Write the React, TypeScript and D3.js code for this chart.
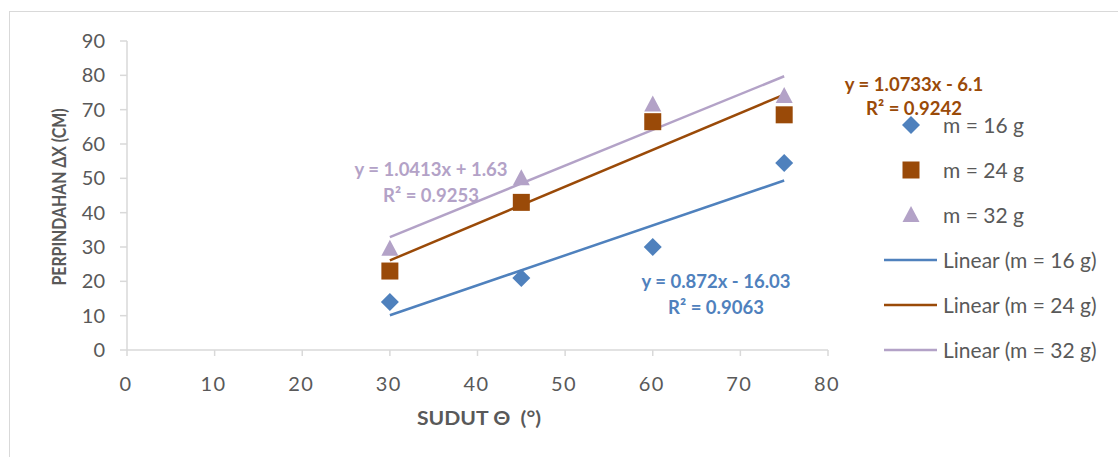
import React from "react";
import * as d3 from "d3";

const angles = [30, 45, 60, 75];
const series16 = [14, 21, 30, 54.5];
const series24 = [23, 43, 66.5, 68.5];
const series32 = [29.5, 50, 71.5, 74];
const xTicks = [0, 10, 20, 30, 40, 50, 60, 70, 80];
const yTicks = [0, 10, 20, 30, 40, 50, 60, 70, 80, 90];
const trends = [
  { slope: 0.872, intercept: -16.03, eq: "y = 0.872x - 16.03", r2: "R² = 0.9063" },
  { slope: 1.0733, intercept: -6.1, eq: "y = 1.0733x - 6.1", r2: "R² = 0.9242" },
  { slope: 1.0413, intercept: 1.63, eq: "y = 1.0413x + 1.63", r2: "R² = 0.9253" },
];
const seriesNames = ["m = 16 g", "m = 24 g", "m = 32 g"];

const colors = ["#4F81BD", "#9A4A08", "#B3A2C7"];
const FONT = "Lato, 'Open Sans', sans-serif";

export default function App() {
  const W = 1118, H = 457;
  const x = d3.scaleLinear().domain([0, 80]).range([127, 828]);
  const y = d3.scaleLinear().domain([0, 90]).range([350, 41]);
  const allSeries = [series16, series24, series32];
  const line = d3.line<number[]>().x((d) => x(d[0])).y((d) => y(d[1]));

  const marker = (k: number, cx: number, cy: number, key: string) => {
    if (k === 0) {
      const s = 9;
      return <path key={key} d={`M${cx},${cy - s}L${cx + s},${cy}L${cx},${cy + s}L${cx - s},${cy}Z`} fill={colors[0]} />;
    }
    if (k === 1) {
      return <rect key={key} x={cx - 8.5} y={cy - 8.5} width={17} height={17} fill={colors[1]} />;
    }
    return <path key={key} d={`M${cx},${cy - 9}L${cx + 8.5},${cy + 7}L${cx - 8.5},${cy + 7}Z`} fill={colors[2]} />;
  };

  const annots = [
    { k: 0, x1: 716, y1: 281, y2: 307 },
    { k: 1, x1: 914, y1: 84, y2: 108 },
    { k: 2, x1: 431, y1: 169, y2: 195 },
  ];

  const legendY = [125, 170, 215, 260, 305, 350];

  return (
    <svg width={W} height={H} style={{ position: "absolute", left: 0, top: 0, fontFamily: FONT }}>
      <rect x={0} y={0} width={W} height={H} fill="#fff" />
      <rect x={9.5} y={11.5} width={1300} height={600} fill="none" stroke="#D9D9D9" strokeWidth={1} />
      {/* axes */}
      <line x1={x(0)} x2={x(80)} y1={y(0)} y2={y(0)} stroke="#D9D9D9" strokeWidth={1.5} />
      <line x1={x(0)} x2={x(0)} y1={y(0)} y2={y(90)} stroke="#D9D9D9" strokeWidth={1.5} />
      {xTicks.map((t) => (
        <g key={"xt" + t}>
          <line x1={x(t)} x2={x(t)} y1={y(0)} y2={y(0) + 6} stroke="#D9D9D9" strokeWidth={1.5} />
          <text x={x(t) - 1} y={y(0) + 41} textAnchor="middle" fontSize={20} fill="#595959" letterSpacing={1.5}>{t}</text>
        </g>
      ))}
      {yTicks.map((t) => (
        <g key={"yt" + t}>
          <line x1={x(0) - 7} x2={x(0)} y1={y(t)} y2={y(t)} stroke="#D9D9D9" strokeWidth={1.5} />
          <text x={x(0) - 22} y={y(t) + 7} textAnchor="end" fontSize={20} fill="#595959">{t}</text>
        </g>
      ))}
      <text x={479} y={425} textAnchor="middle" fontSize={19} fontWeight="bold" fill="#595959" textLength={124} lengthAdjust="spacingAndGlyphs" style={{ whiteSpace: "pre" }}>{"SUDUT Θ\u00A0\u00A0(°)"}</text>
      <text transform={`translate(66,197) rotate(-90)`} textAnchor="middle" fontSize={18} fontWeight="bold" fill="#595959" textLength={177} lengthAdjust="spacingAndGlyphs">PERPINDAHAN ΔX (CM)</text>

      {/* trend lines */}
      {trends.map((tr, k) => (
        <path key={"tr" + k} d={line([[30, tr.slope * 30 + tr.intercept], [75, tr.slope * 75 + tr.intercept]]) || ""} stroke={colors[k]} strokeWidth={2.5} fill="none" />
      ))}
      {/* markers */}
      {allSeries.map((s, k) => s.map((v, i) => marker(k, x(angles[i]), y(v), `m${k}-${i}`)))}

      {/* annotations */}
      {annots.map((a) => (
        <g key={"an" + a.k} fontWeight="bold" fontSize={18.5} fill={colors[a.k]} textAnchor="middle">
          <text x={a.x1} y={a.y1 + 6.5}>{trends[a.k].eq}</text>
          <text x={a.x1} y={a.y2 + 6.5}>{trends[a.k].r2}</text>
        </g>
      ))}

      {/* legend */}
      {seriesNames.map((n, k) => (
        <g key={"lg" + k}>
          {marker(k, 911, legendY[k], "lgm" + k)}
          <text x={943} y={legendY[k] + 7.5} fontSize={21} fill="#595959">{n}</text>
        </g>
      ))}
      {seriesNames.map((n, k) => (
        <g key={"lgl" + k}>
          <line x1={884} x2={937} y1={legendY[k + 3]} y2={legendY[k + 3]} stroke={colors[k]} strokeWidth={2.5} />
          <text x={943} y={legendY[k + 3] + 7.5} fontSize={21} fill="#595959">{`Linear (${n})`}</text>
        </g>
      ))}
    </svg>
  );
}
